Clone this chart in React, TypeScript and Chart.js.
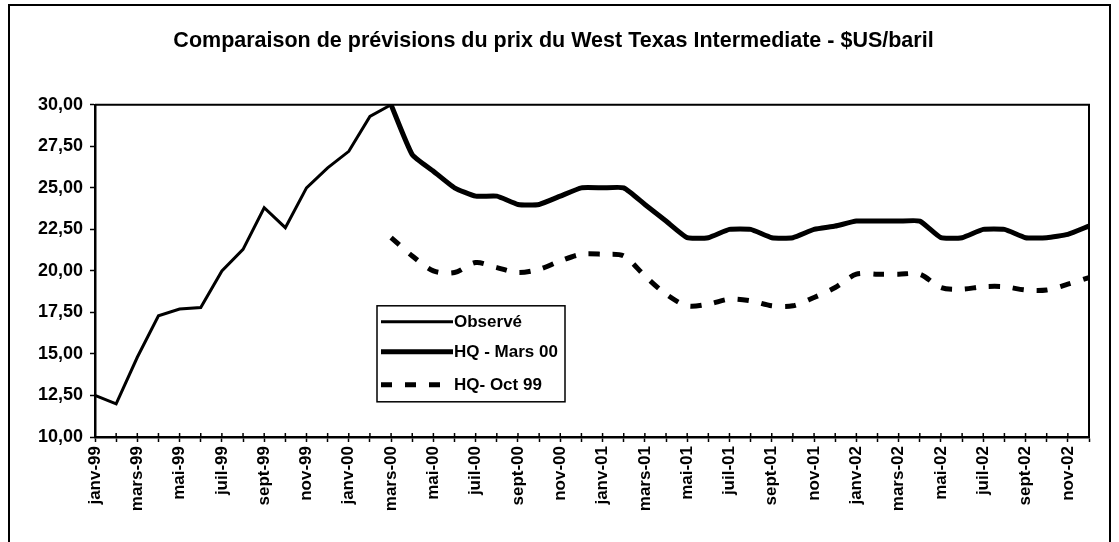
import React, { useEffect, useRef } from "react";
import { Chart, registerables } from "chart.js";

Chart.register(...registerables);

const TITLE = "Comparaison de prévisions du prix du West Texas Intermediate - $US/baril";

const MONTHS = ["janv", "févr", "mars", "avr", "mai", "juin", "juil", "août", "sept", "oct", "nov", "déc"];
const YEARS = ["99", "00", "01", "02"];
const LABELS: string[] = YEARS.flatMap((y) => MONTHS.map((m) => `${m}-${y}`));

// Observé: janv-99 .. mars-00
const OBSERVED = [12.5, 12.0, 14.8, 17.3, 17.7, 17.8, 20.0, 21.3, 23.8, 22.6, 25.0, 26.2, 27.2, 29.3, 30.0];

// HQ - Mars 00: mars-00 .. déc-02
const HQ_MARS_00 = [
  30.0, 27.0, 26.0, 25.0, 24.5, 24.5, 24.0, 24.0, 24.5, 25.0,
  25.0, 25.0, 24.0, 23.0, 22.0, 22.0, 22.5, 22.5, 22.0, 22.0, 22.5, 22.7,
  23.0, 23.0, 23.0, 23.0, 22.0, 22.0, 22.5, 22.5, 22.0, 22.0, 22.2, 22.7,
];

// HQ- Oct 99: mars-00 .. déc-02
const HQ_OCT_99 = [
  22.0, 20.9, 20.0, 19.9, 20.5, 20.2, 19.9, 20.1, 20.6, 21.0,
  21.0, 20.9, 19.7, 18.6, 17.9, 18.0, 18.3, 18.2, 17.9, 17.9, 18.4, 19.0,
  19.8, 19.8, 19.8, 19.8, 19.0, 18.9, 19.05, 19.05, 18.85, 18.85, 19.2, 19.6,
];

const FORECAST_START = 14; // index of mars-00

const Y_MIN = 10;
const Y_MAX = 30;
const Y_STEP = 2.5;

const FONT = '"Liberation Sans", Arial, Helvetica, sans-serif';

function pad<T>(before: number, values: T[], total: number): (T | null)[] {
  const out: (T | null)[] = [];
  for (let i = 0; i < before; i++) out.push(null);
  values.forEach((v) => out.push(v));
  while (out.length < total) out.push(null);
  return out;
}

const frameAndLegendPlugin = {
  id: "frameAndLegend",
  afterDraw(chart: any) {
    const ctx = chart.ctx as CanvasRenderingContext2D;
    const area = chart.chartArea;
    ctx.save();
    // plot area border (top & right)
    ctx.strokeStyle = "#000";
    ctx.lineWidth = 2;
    ctx.beginPath();
    ctx.moveTo(area.left, area.top);
    ctx.lineTo(area.right, area.top);
    ctx.lineTo(area.right, area.bottom);
    ctx.stroke();

    // crossing tick marks on x axis
    const xs = chart.scales.x;
    ctx.lineWidth = 1.5;
    xs.ticks.forEach((_t: any, i: number) => {
      const px = xs.getPixelForTick(i);
      ctx.beginPath();
      ctx.moveTo(px, area.bottom - 4);
      ctx.lineTo(px, area.bottom);
      ctx.stroke();
    });

    // legend box
    const lx = area.left + 282;
    const ly = area.top + 201;
    const lw = 188;
    const lh = 96;
    ctx.fillStyle = "#fff";
    ctx.fillRect(lx, ly, lw, lh);
    ctx.lineWidth = 1.5;
    ctx.strokeStyle = "#000";
    ctx.strokeRect(lx, ly, lw, lh);

    const rows = [16, 46, 79];
    chart.data.datasets.forEach((ds: any, i: number) => {
      const cy = ly + rows[i];
      ctx.save();
      ctx.strokeStyle = ds.borderColor;
      ctx.lineWidth = ds.borderWidth;
      ctx.setLineDash(ds.borderDash || []);
      ctx.beginPath();
      ctx.moveTo(lx + 4, cy);
      ctx.lineTo(lx + 76, cy);
      ctx.stroke();
      ctx.restore();
      ctx.fillStyle = "#000";
      ctx.font = `bold 17px ${FONT}`;
      ctx.textBaseline = "middle";
      ctx.textAlign = "left";
      ctx.fillText(ds.label, lx + 77, cy + 1);
    });
    ctx.restore();
  },
};

export default function App() {
  const canvasRef = useRef<HTMLCanvasElement | null>(null);

  useEffect(() => {
    const canvas = canvasRef.current;
    if (!canvas) return;
    const total = LABELS.length;
    const chart = new Chart(canvas, {
      type: "line",
      data: {
        labels: LABELS,
        datasets: [
          {
            label: "Observé",
            data: pad(0, OBSERVED, total),
            borderColor: "#000",
            backgroundColor: "#000",
            borderWidth: 3,
            pointRadius: 0,
            tension: 0,
          },
          {
            label: "HQ - Mars 00",
            data: pad(FORECAST_START, HQ_MARS_00, total),
            borderColor: "#000",
            backgroundColor: "#000",
            borderWidth: 5,
            pointRadius: 0,
            tension: 0.15,
          },
          {
            label: "HQ- Oct 99",
            data: pad(FORECAST_START, HQ_OCT_99, total),
            borderColor: "#000",
            backgroundColor: "#000",
            borderWidth: 5,
            borderDash: [11, 13],
            pointRadius: 0,
            tension: 0.3,
          },
        ],
      },
      options: {
        responsive: false,
        devicePixelRatio: 1,
        animation: false,
        layout: { padding: { left: 18, right: 30, top: 0, bottom: 0 } },
        plugins: {
          legend: { display: false },
          tooltip: { enabled: false },
          title: {
            display: true,
            text: TITLE,
            color: "#000",
            font: { family: FONT, size: 21.5, weight: "bold" },
            padding: { top: 28, bottom: 51 },
          },
        },
        scales: {
          x: {
            type: "category",
            offset: false,
            grid: {
              drawOnChartArea: false,
              drawTicks: true,
              tickLength: 5,
              tickWidth: 1.5,
              color: "#000",
            },
            border: { display: true, color: "#000", width: 2.5 },
            ticks: {
              autoSkip: false,
              maxRotation: 90,
              minRotation: 90,
              padding: 4,
              color: "#000",
              font: { family: FONT, size: 17, weight: "bold" },
              callback: function (this: any, value: any, index: number) {
                return index % 2 === 0 ? this.getLabelForValue(value) : "";
              },
            },
            afterFit: (scale: any) => {
              scale.height = 105;
            },
          },
          y: {
            min: Y_MIN,
            max: Y_MAX,
            grid: {
              drawOnChartArea: false,
              drawTicks: true,
              tickLength: 5,
              tickWidth: 1.5,
              color: "#000",
            },
            border: { display: true, color: "#000", width: 2.5 },
            ticks: {
              stepSize: Y_STEP,
              padding: 7,
              color: "#000",
              font: { family: FONT, size: 18, weight: "bold" },
              callback: (value: any) => Number(value).toFixed(2).replace(".", ","),
            },
            afterFit: (scale: any) => {
              scale.width = 77;
            },
          },
        },
      },
      plugins: [frameAndLegendPlugin],
    });
    return () => chart.destroy();
  }, []);

  return (
    <div
      style={{
        position: "fixed",
        left: 0,
        top: 0,
        width: 1119,
        height: 542,
        overflow: "hidden",
        background: "#fff",
      }}
    >
      <canvas ref={canvasRef} width={1119} height={542} style={{ position: "absolute", left: 0, top: 0 }} />
      <div
        style={{
          position: "absolute",
          left: 8,
          top: 4,
          width: 1103,
          height: 600,
          border: "2px solid #000",
          boxSizing: "border-box",
          pointerEvents: "none",
        }}
      />
    </div>
  );
}
